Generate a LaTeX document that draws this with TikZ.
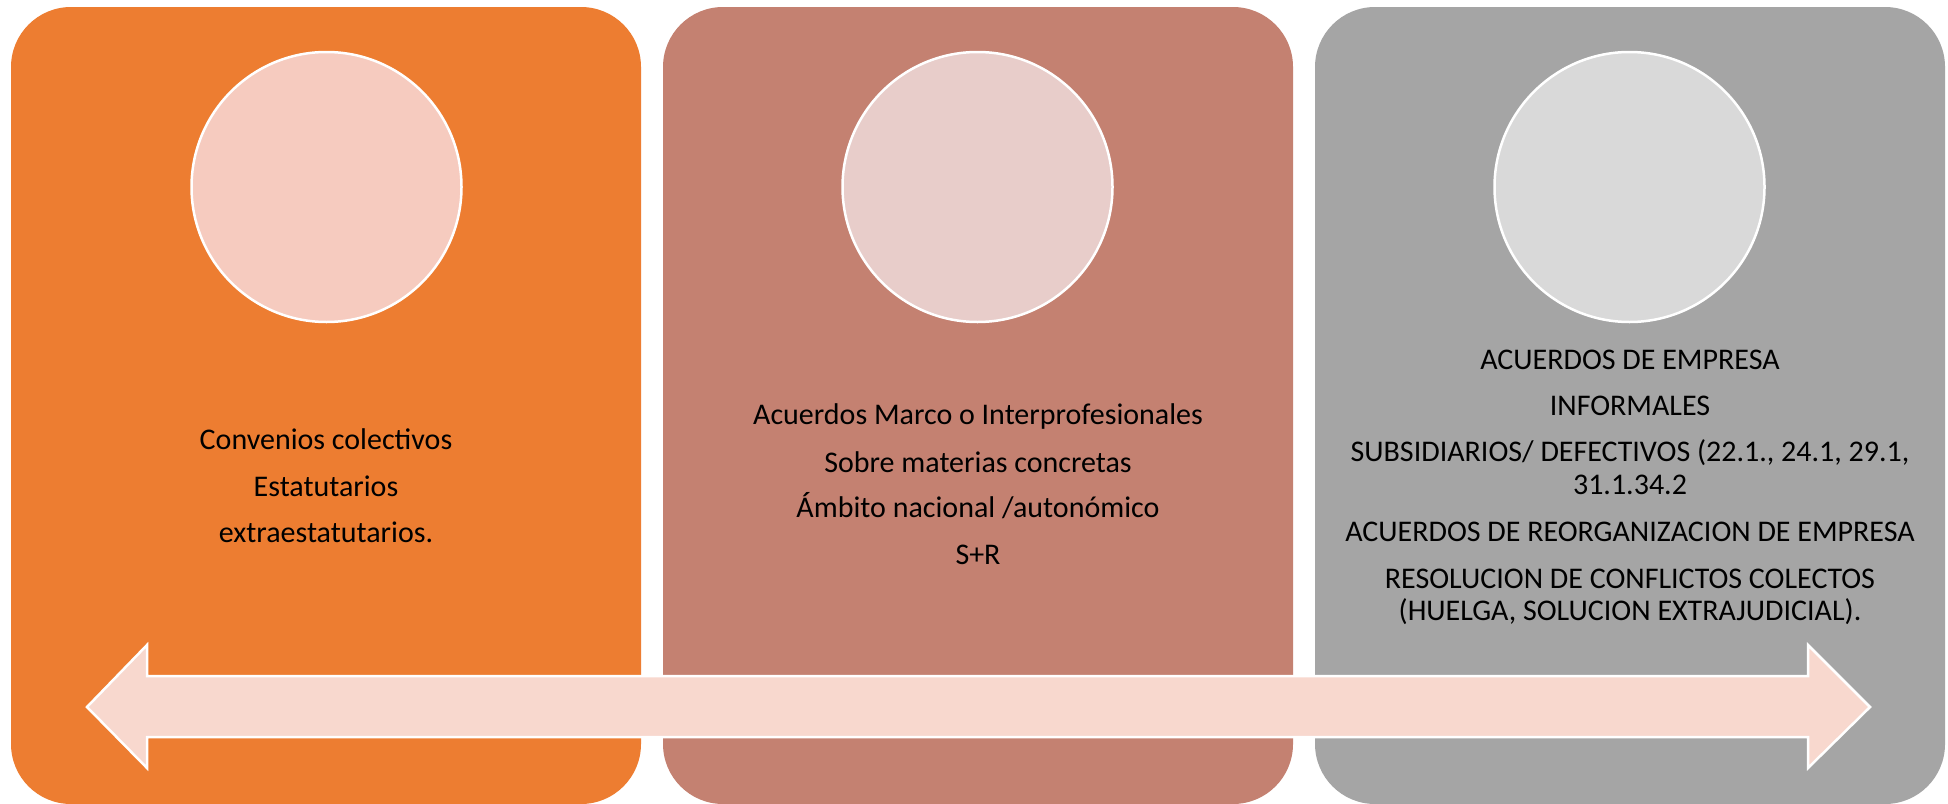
\documentclass[tikz,border=0pt]{standalone}
\usepackage{fontspec}
\setmainfont{Carlito}
\definecolor{boxA}{HTML}{ED7D31}
\definecolor{boxB}{HTML}{C48171}
\definecolor{boxC}{HTML}{A5A5A5}
\definecolor{circA}{HTML}{F6CBBF}
\definecolor{circB}{HTML}{E8CDCA}
\definecolor{circC}{HTML}{D9D9D9}
\definecolor{arrowfill}{HTML}{F8D8CE}
\begin{document}
\begin{tikzpicture}[x=1pt,y=-1pt,
  panel/.style={rectangle, rounded corners=60pt, minimum width=630pt, minimum height=797pt, inner sep=0pt, draw=none},
  disc/.style={circle, minimum size=270pt, inner sep=0pt, draw=white, line width=2.5pt},
  txt/.style={anchor=base, inner sep=0pt, font=\fontsize{30}{33}\selectfont, text=black}]
\useasboundingbox (0,0) rectangle (1948,803);
\fill[white] (0,0) rectangle (1948,803);
% panels
\node[panel, fill=boxA] (b1) at (326,405.5) {};
\node[panel, fill=boxB] (b2) at (978,405.5) {};
\node[panel, fill=boxC] (b3) at (1630,405.5) {};
% discs
\node[disc, fill=circA] (c1) at (326.5,187) {};
\node[disc, fill=circB] (c2) at (977.5,187) {};
\node[disc, fill=circC] (c3) at (1629.5,187) {};
% texts panel 1
\node[txt] (t1a) at (326,449) {Convenios colectivos};
\node[txt] (t1b) at (326,496) {Estatutarios};
\node[txt] (t1c) at (326,542) {extraestatutarios.};
% texts panel 2
\node[txt] (t2a) at (978,424) {Acuerdos Marco o Interprofesionales};
\node[txt] (t2b) at (978,472) {Sobre materias concretas};
\node[txt] (t2c) at (978,517) {Ámbito nacional /autonómico};
\node[txt] (t2d) at (978,564) {S+R};
% texts panel 3
\node[txt] (t3a) at (1630,369) {ACUERDOS DE EMPRESA};
\node[txt] (t3b) at (1630,415) {INFORMALES};
\node[txt] (t3c) at (1630,461) {SUBSIDIARIOS/ DEFECTIVOS (22.1., 24.1, 29.1,};
\node[txt] (t3d) at (1630,494) {31.1.34.2};
\node[txt] (t3e) at (1630,541) {ACUERDOS DE REORGANIZACION DE EMPRESA};
\node[txt] (t3f) at (1630,588) {RESOLUCION DE CONFLICTOS COLECTOS};
\node[txt] (t3g) at (1630,620) {(HUELGA, SOLUCION EXTRAJUDICIAL).};
% double block arrow
\draw[fill=arrowfill, draw=white, line width=2.5pt, line join=miter]
  (87,707) -- (147,645) -- (147,676) -- (1808,676) -- (1808,645) -- (1870,707)
  -- (1808,768) -- (1808,737) -- (147,737) -- (147,768) -- cycle;
\end{tikzpicture}
\end{document}
